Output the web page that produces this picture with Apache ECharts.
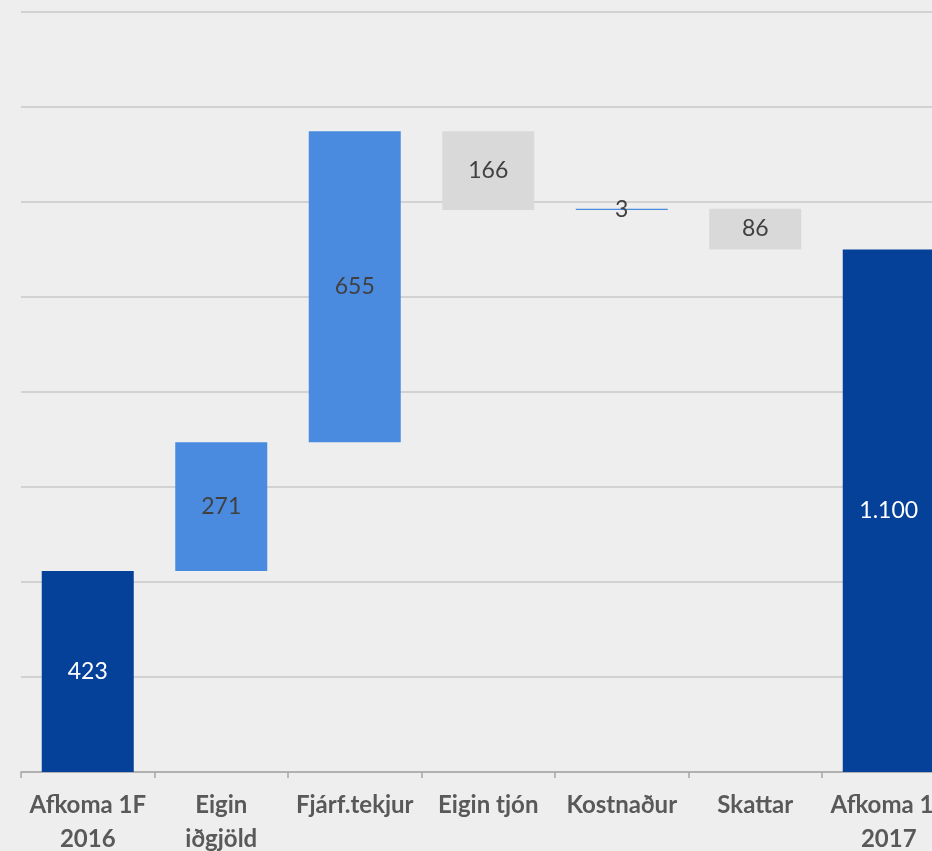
<!DOCTYPE html>
<html>
<head>
<meta charset="utf-8">
<script src="https://cdn.jsdelivr.net/npm/echarts@6/dist/echarts.min.js"></script>
<style>
html,body{margin:0;padding:0;background:#eeeeee;}
#c{width:932px;height:851px;}
</style>
</head>
<body>
<div id="c"></div>
<script>
const categories = ['Afkoma 1F\n2016', 'Eigin\niðgjöld', 'Fjárf.tekjur', 'Eigin tjón', 'Kostnaður', 'Skattar', 'Afkoma 1F\n2017'];
const changes = [423, 271, 655, -166, 3, -86, 1100];
const kinds = ['total', 'up', 'up', 'down', 'up', 'down', 'total'];
const yTicks = [0, 200, 400, 600, 800, 1000, 1200, 1400, 1600];

const colors = { total: '#054099', up: '#4a8bdf', down: '#d9d9d9' };
const labelColors = { total: '#ffffff', up: '#404040', down: '#404040' };

let running = 0;
const bases = [], heights = [];
changes.forEach((v, i) => {
  if (kinds[i] === 'total') { bases.push(0); heights.push(v); running = v; }
  else if (v >= 0) { bases.push(running); heights.push(v); running += v; }
  else { bases.push(running + v); heights.push(-v); running += v; }
});

function fmt(n) {
  return String(Math.abs(n)).replace(/\B(?=(\d{3})+(?!\d))/g, '.');
}

const chart = echarts.init(document.getElementById('c'));
chart.setOption({
  backgroundColor: '#eeeeee',
  animation: false,
  grid: { left: 21, right: -23.5, top: 12, bottom: 79, containLabel: false, outerBoundsMode: 'none' },
  xAxis: {
    type: 'category',
    data: categories,
    axisLine: { lineStyle: { color: '#a6a6a6', width: 1.5 } },
    axisTick: { show: true, length: 6, alignWithLabel: false, lineStyle: { color: '#a6a6a6', width: 1.5 } },
    axisLabel: {
      interval: 0,
      margin: 16,
      fontFamily: 'Lato',
      fontWeight: 'bold',
      fontSize: 24,
      lineHeight: 34,
      color: '#595959'
    }
  },
  yAxis: {
    type: 'value',
    min: yTicks[0],
    max: yTicks[yTicks.length - 1],
    interval: 200,
    axisLine: { show: false },
    axisTick: { show: false },
    axisLabel: { show: false },
    splitLine: { lineStyle: { color: '#c9c9c9', width: 1.5 } }
  },
  series: [
    {
      type: 'bar',
      stack: 'w',
      barWidth: 92,
      data: bases,
      itemStyle: { color: 'rgba(0,0,0,0)' },
      silent: true
    },
    {
      type: 'bar',
      stack: 'w',
      barWidth: 92,
      data: heights.map((h, i) => ({
        value: h,
        itemStyle: { color: colors[kinds[i]] },
        label: { color: labelColors[kinds[i]] }
      })),
      label: {
        show: true,
        position: 'inside',
        fontFamily: 'Lato',
        fontSize: 23,
        formatter: p => fmt(changes[p.dataIndex])
      }
    }
  ]
});
</script>
</body>
</html>
